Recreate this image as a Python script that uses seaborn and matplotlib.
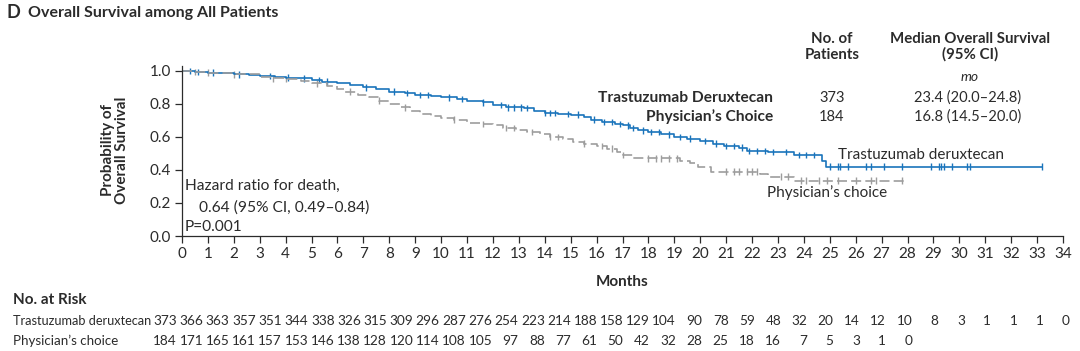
import numpy as np
import pandas as pd
import matplotlib
matplotlib.use("Agg")
import matplotlib.pyplot as plt
import matplotlib.transforms as mtransforms
import seaborn as sns

# Kaplan-Meier steps (month, survival probability)
td_months = [0, 0.5, 1.0, 1.5, 2.0, 2.6, 3.0, 3.6, 4.0, 4.6, 5.0, 5.4, 6.0, 6.5, 7.0, 7.5,
             8.0, 8.6, 9.0, 9.6, 10.0, 10.6, 11.0, 11.6, 12.0, 12.5, 13.2, 13.6, 14.0, 14.5,
             15.0, 15.5, 15.8, 16.2, 16.7, 17.0, 17.3, 17.6, 18.0, 18.5, 19.0, 19.5, 20.0,
             20.5, 20.9, 21.5, 21.8, 22.6, 23.6, 24.7, 24.85, 33.2]
td_surv = [1.0, 0.995, 0.99, 0.985, 0.98, 0.975, 0.97, 0.965, 0.96, 0.955, 0.945, 0.935,
           0.925, 0.915, 0.90, 0.89, 0.875, 0.865, 0.855, 0.85, 0.84, 0.83, 0.82, 0.81,
           0.795, 0.78, 0.775, 0.76, 0.745, 0.74, 0.735, 0.72, 0.705, 0.69, 0.68, 0.67,
           0.655, 0.64, 0.63, 0.615, 0.60, 0.59, 0.575, 0.56, 0.545, 0.535, 0.515, 0.51,
           0.49, 0.455, 0.42, 0.42]
pc_months = [0, 0.5, 1.0, 2.0, 3.0, 3.5, 4.0, 4.6, 5.0, 5.6, 6.0, 6.3, 6.8, 7.2, 7.6, 8.0,
             8.4, 8.8, 9.2, 9.6, 10.0, 10.5, 11.0, 11.6, 12.0, 12.4, 12.9, 13.3, 13.8, 14.2,
             14.7, 15.1, 15.5, 16.0, 16.4, 16.8, 17.0, 17.4, 19.2, 19.6, 19.9, 20.4, 22.3,
             22.6, 23.6, 27.9]
pc_surv = [1.0, 0.995, 0.99, 0.98, 0.965, 0.955, 0.95, 0.94, 0.925, 0.91, 0.89, 0.875,
           0.855, 0.84, 0.82, 0.80, 0.78, 0.755, 0.74, 0.73, 0.715, 0.705, 0.685, 0.68,
           0.67, 0.655, 0.645, 0.63, 0.615, 0.60, 0.585, 0.57, 0.56, 0.545, 0.53, 0.51,
           0.49, 0.47, 0.455, 0.44, 0.42, 0.39, 0.375, 0.36, 0.335, 0.335]

# censoring times
td_censor = [0.3, 0.6, 1.2, 2.2, 3.4, 4.1, 4.7, 5.3, 5.6, 7.1, 8.2, 8.7, 9.2, 9.5, 10.3,
             10.8, 11.6, 12.3, 12.6, 12.8, 13.1, 13.3, 14.0, 14.2, 14.4, 14.9, 15.3, 15.9,
             16.3, 16.6, 16.9, 17.2, 17.4, 17.8, 18.1, 18.4, 18.8, 19.2, 19.6, 20.2, 20.6,
             21.0, 21.3, 21.6, 21.9, 22.2, 22.5, 22.8, 23.3, 23.8, 24.1, 24.4, 25.0, 25.3,
             25.4, 25.7, 26.4, 26.6, 27.1, 27.8, 28.9, 29.2, 29.3, 29.4, 29.7, 30.3, 30.4, 33.2]
pc_censor = [0.5, 1.0, 2.0, 3.5, 4.0, 5.2, 6.5, 7.6, 8.6, 10.5, 11.6, 12.5, 12.8, 13.5,
             14.2, 14.5, 15.5, 16.2, 16.6, 17.0, 18.0, 18.3, 18.5, 18.8, 19.1, 21.0, 21.3,
             21.5, 21.8, 22.0, 22.2, 23.1, 23.4, 23.9, 24.1, 24.6, 24.9, 25.3, 26.0, 26.6,
             26.8, 27.8]

arms = ["Trastuzumab deruxtecan", "Physician's choice"]
months_ticks = list(range(0, 35))
td_risk = [373, 366, 363, 357, 351, 344, 338, 326, 315, 309, 296, 287, 276, 254, 223, 214,
           188, 158, 129, 104, 90, 78, 59, 48, 32, 20, 14, 12, 10, 8, 3, 1, 1, 1, 0]
pc_risk = [184, 171, 165, 161, 157, 153, 146, 138, 128, 120, 114, 108, 105, 97, 88, 77, 61,
           50, 42, 32, 28, 25, 18, 16, 7, 5, 3, 1, 0]

blue = "#1a74bb"
gray = "#9d9d9d"
dark = "#2b2b2b"

sns.set_style("ticks")
plt.rcParams["font.family"] = ["Lato", "DejaVu Sans"]
plt.rcParams["text.color"] = dark
plt.rcParams["axes.labelcolor"] = dark
plt.rcParams["xtick.color"] = dark
plt.rcParams["ytick.color"] = dark

curves = pd.concat([
    pd.DataFrame({"month": td_months, "surv": td_surv, "arm": arms[0]}),
    pd.DataFrame({"month": pc_months, "surv": pc_surv, "arm": arms[1]}),
])


def censor_frame(times, steps_t, steps_s, arm):
    idx = np.searchsorted(steps_t, times, side="right") - 1
    return pd.DataFrame({"month": times, "surv": np.array(steps_s)[idx], "arm": arm})


marks = pd.concat([
    censor_frame(td_censor, td_months, td_surv, arms[0]),
    censor_frame(pc_censor, pc_months, pc_surv, arms[1]),
])

W, H = 1080, 351
fig = plt.figure(figsize=(W / 100, H / 100), dpi=100)


def fx(x):
    return x / W


def fy(y):
    return 1 - y / H


ax = fig.add_axes([fx(182), fy(236), (1063 - 182) / W, (236 - 66) / H])
palette = {arms[0]: blue, arms[1]: gray}
sns.lineplot(data=curves, x="month", y="surv", hue="arm", style="arm", ax=ax,
             palette=palette, dashes={arms[0]: "", arms[1]: (6, 2.5)},
             estimator=None, drawstyle="steps-post", linewidth=1.2, legend=False)
sns.scatterplot(data=marks, x="month", y="surv", hue="arm", palette=palette, ax=ax,
                marker="|", s=22, linewidth=1.0, legend=False)

ax.set_xlim(0, 34)
ax.set_ylim(0, 1.03)
ax.set_xticks(months_ticks)
ax.set_yticks([0.0, 0.2, 0.4, 0.6, 0.8, 1.0])
ax.set_yticklabels(["0.0", "0.2", "0.4", "0.6", "0.8", "1.0"])
ax.tick_params(axis="both", labelsize=11, length=5, width=0.9, pad=3)
ax.set_xlabel("")
ax.set_ylabel("")
for s in ["left", "bottom"]:
    ax.spines[s].set_linewidth(0.9)
    ax.spines[s].set_color(dark)
sns.despine(ax=ax)

# axis labels
fig.text(fx(115), fy(150), "Probability of\nOverall Survival", rotation=90, ha="center",
         va="center", fontsize=11, fontweight="bold", linespacing=1.05)
fig.text(fx(622), fy(282), "Months", ha="center", va="center", fontsize=11,
         fontweight="bold")

# title
fig.text(fx(7), fy(13), "D", ha="left", va="center", fontsize=13, fontweight="bold")
fig.text(fx(28), fy(13), "Overall Survival among All Patients", ha="left", va="center",
         fontsize=11.5, fontweight="bold")

# header table
fig.text(fx(832), fy(47), "No. of\nPatients", ha="center", va="center", fontsize=10.8,
         fontweight="bold", linespacing=1.1)
fig.text(fx(970), fy(47), "Median Overall Survival\n(95% CI)", ha="center", va="center",
         fontsize=10.8, fontweight="bold", linespacing=1.1)
fig.text(fx(970), fy(77), "mo", ha="center", va="center", fontsize=10, style="italic")
fig.text(fx(773), fy(98), "Trastuzumab Deruxtecan", ha="right", va="center",
         fontsize=11.2, fontweight="bold")
fig.text(fx(773), fy(117), "Physician\u2019s Choice", ha="right", va="center",
         fontsize=11.2, fontweight="bold")
fig.text(fx(832), fy(98), str(td_risk[0]), ha="center", va="center", fontsize=10.5)
fig.text(fx(832), fy(117), str(pc_risk[0]), ha="center", va="center", fontsize=10.5)
fig.text(fx(968), fy(98), "23.4 (20.0\u201324.8)", ha="center", va="center", fontsize=10.5)
fig.text(fx(968), fy(117), "16.8 (14.5\u201320.0)", ha="center", va="center", fontsize=10.5)

# curve labels
fig.text(fx(838), fy(155), "Trastuzumab deruxtecan", ha="left", va="center", fontsize=11)
fig.text(fx(767), fy(193), "Physician\u2019s choice", ha="left", va="center", fontsize=11)

# hazard ratio
fig.text(fx(185), fy(186), "Hazard ratio for death,", ha="left", va="center", fontsize=11.2)
fig.text(fx(199), fy(208), "0.64 (95% CI, 0.49\u20130.84)", ha="left", va="center",
         fontsize=11.2)
fig.text(fx(185), fy(227), "P=0.001", ha="left", va="center", fontsize=11.2)

# number at risk
fig.text(fx(13), fy(300), "No. at Risk", ha="left", va="center", fontsize=11,
         fontweight="bold")
fig.text(fx(13), fy(321), "Trastuzumab deruxtecan", ha="left", va="center", fontsize=9.2)
fig.text(fx(13), fy(341), "Physician\u2019s choice", ha="left", va="center", fontsize=9.6)

rax = fig.add_axes([fx(177), 0, (1070 - 177) / W, 0.05])
rax.set_xlim(0, 34)
rax.axis("off")
trans = mtransforms.blended_transform_factory(rax.transData, fig.transFigure)
for i, n in enumerate(td_risk):
    rax.text(months_ticks[i], fy(321), str(n), transform=trans, ha="right", va="center",
             fontsize=9.8)
for i, n in enumerate(pc_risk):
    rax.text(months_ticks[i], fy(341), str(n), transform=trans, ha="right", va="center",
             fontsize=9.8)

fig.savefig("out.png", dpi=100)
